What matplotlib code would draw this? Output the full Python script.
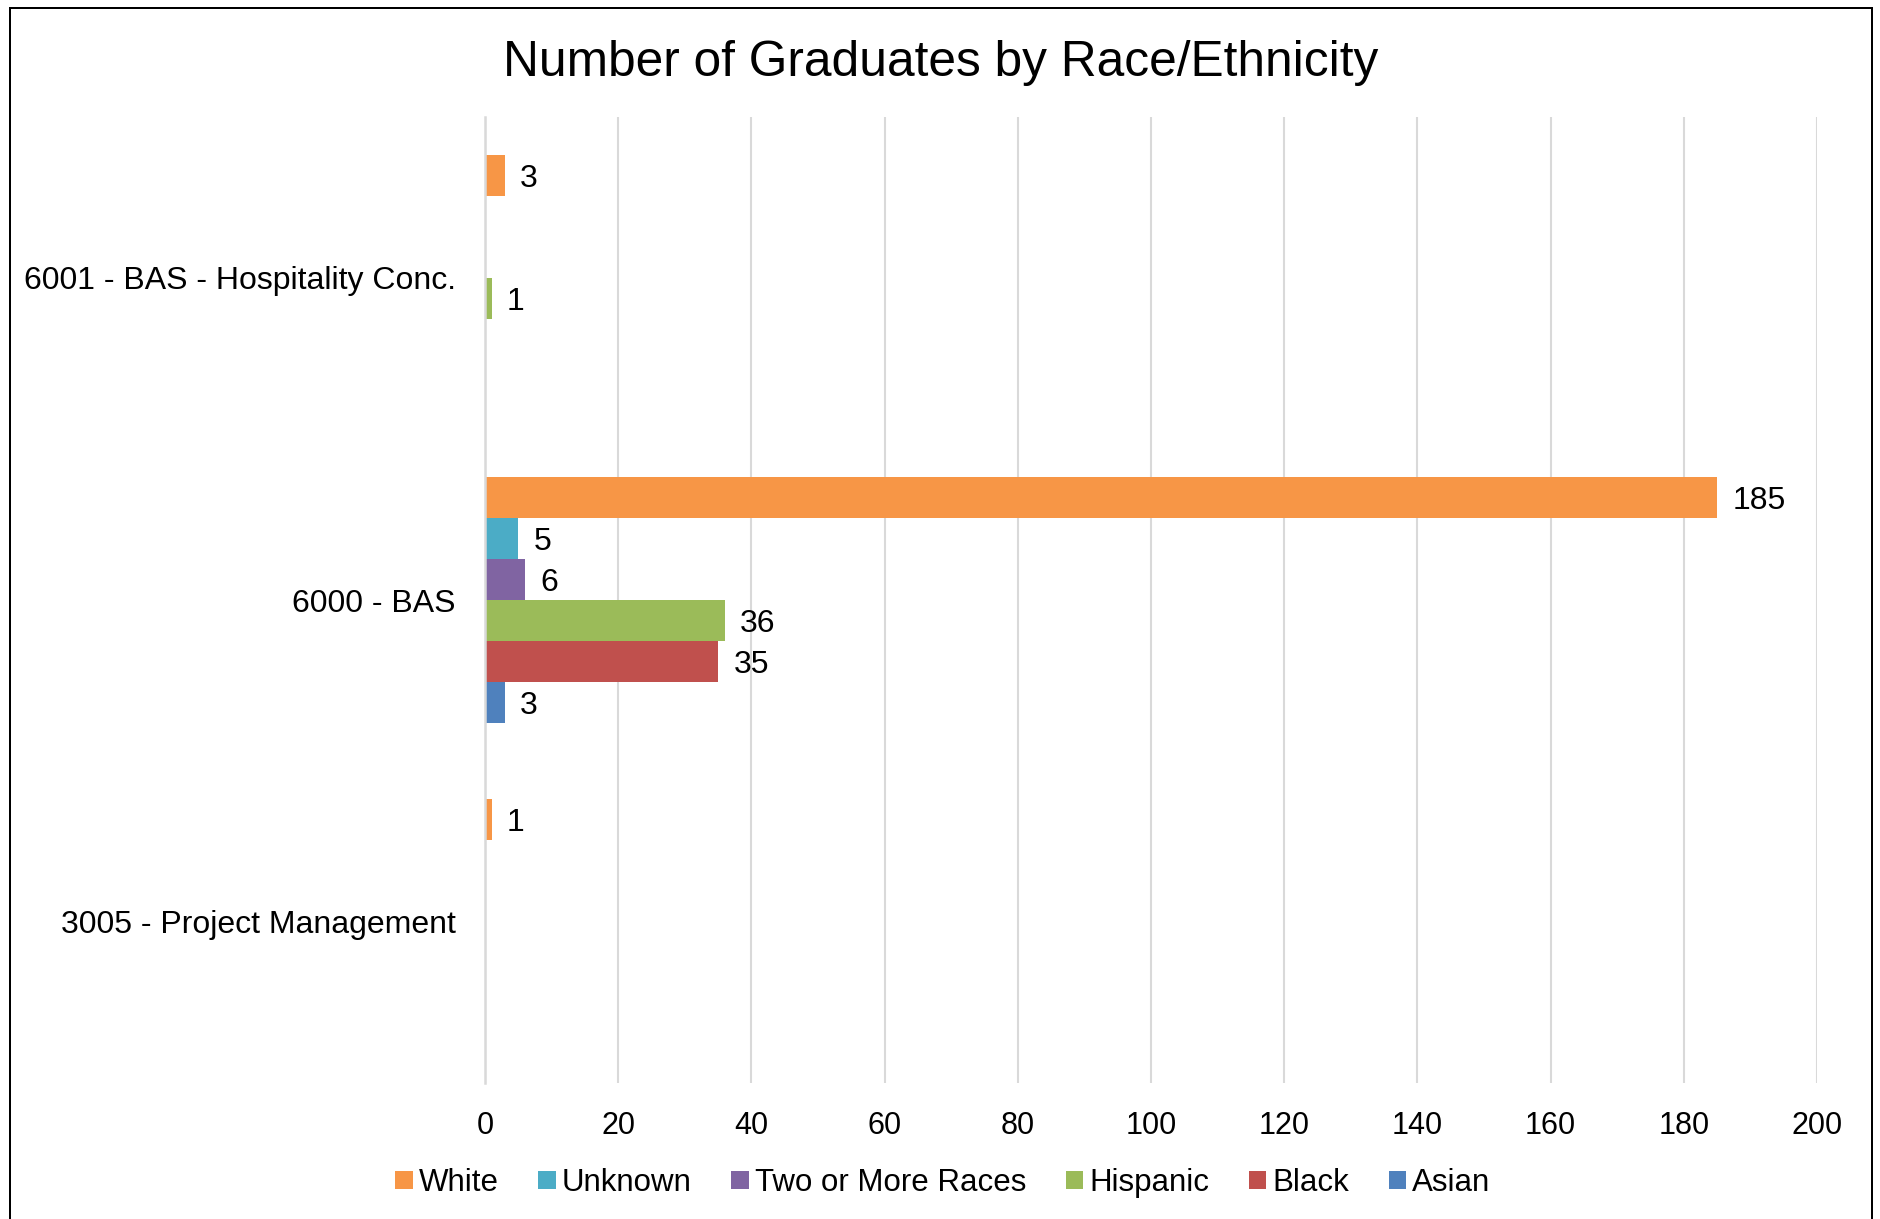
import matplotlib
matplotlib.use("Agg")
import matplotlib.pyplot as plt
from matplotlib.lines import Line2D
import numpy as np

plt.rcParams['font.family'] = ['Liberation Sans', 'DejaVu Sans']

categories = ["3005 - Project Management", "6000 - BAS", "6001 - BAS - Hospitality Conc."]
series_names = ["White", "Unknown", "Two or More Races", "Hispanic", "Black", "Asian"]
values = {
    "White":             [1, 185, 3],
    "Unknown":           [0, 5, 0],
    "Two or More Races": [0, 6, 0],
    "Hispanic":          [0, 36, 1],
    "Black":             [0, 35, 0],
    "Asian":             [0, 3, 0],
}
colors = {
    "White": "#F79646",
    "Unknown": "#4BACC6",
    "Two or More Races": "#8064A2",
    "Hispanic": "#9BBB59",
    "Black": "#C0504D",
    "Asian": "#4F81BD",
}
x_ticks = [0, 20, 40, 60, 80, 100, 120, 140, 160, 180, 200]
title = "Number of Graduates by Race/Ethnicity"

W, H = 1881, 1219
fig = plt.figure(figsize=(W / 100, H / 100), dpi=100)
ax = fig.add_axes([485 / W, 1 - 1083 / H, (1817 - 485) / W, (1083 - 117) / H])

n = len(series_names)
group = 0.765
bh = group / n
y = np.arange(len(categories))
for i, name in enumerate(series_names):
    off = group / 2 - bh * (i + 0.5)
    vals = values[name]
    ax.barh(y + off, vals, height=bh, color=colors[name], label=name, linewidth=0)
    for yy, v in zip(y + off, vals):
        if v:
            ax.annotate(str(v), xy=(v, yy), xytext=(11, 0), textcoords="offset points",
                        ha="left", va="center_baseline", fontsize=23, color="#000000")

ax.set_xlim(0, 200)
ax.set_ylim(-0.5, len(categories) - 0.5)
ax.set_xticks(x_ticks)
ax.set_xticklabels([str(t) for t in x_ticks], fontsize=22)
ax.set_yticks(y)
ax.set_yticklabels(categories, fontsize=23)
ax.tick_params(axis='both', length=0)
ax.tick_params(axis='x', pad=20)
ax.tick_params(axis='y', pad=21)
ax.grid(axis='x', color='#D9D9D9', linewidth=1.5)
ax.set_axisbelow(True)
for s in ['top', 'right', 'bottom']:
    ax.spines[s].set_visible(False)
ax.spines['left'].set_color('#D9D9D9')
ax.spines['left'].set_linewidth(1.8)

fig.text(941 / W, 1 - 58 / H, title, ha='center', va='center_baseline', fontsize=35.7)

fig.legend(*ax.get_legend_handles_labels(), loc='center', bbox_to_anchor=(943 / W, 1 - 1183 / H),
           ncol=6, frameon=False, fontsize=22.5, handlelength=0.55, handleheight=0.55,
           handletextpad=0.2, columnspacing=1.27, borderaxespad=0, borderpad=0)

# outer chart border (no bottom edge visible)
lw = 2.0 * 72 / 100
fig.add_artist(Line2D([10 / W, 10 / W], [0, 1 - 8 / H], transform=fig.transFigure, color='black', linewidth=lw))
fig.add_artist(Line2D([1872 / W, 1872 / W], [0, 1 - 8 / H], transform=fig.transFigure, color='black', linewidth=lw))
fig.add_artist(Line2D([10 / W, 1872 / W], [1 - 8 / H, 1 - 8 / H], transform=fig.transFigure, color='black', linewidth=lw))

fig.savefig("out.png", dpi=100)
